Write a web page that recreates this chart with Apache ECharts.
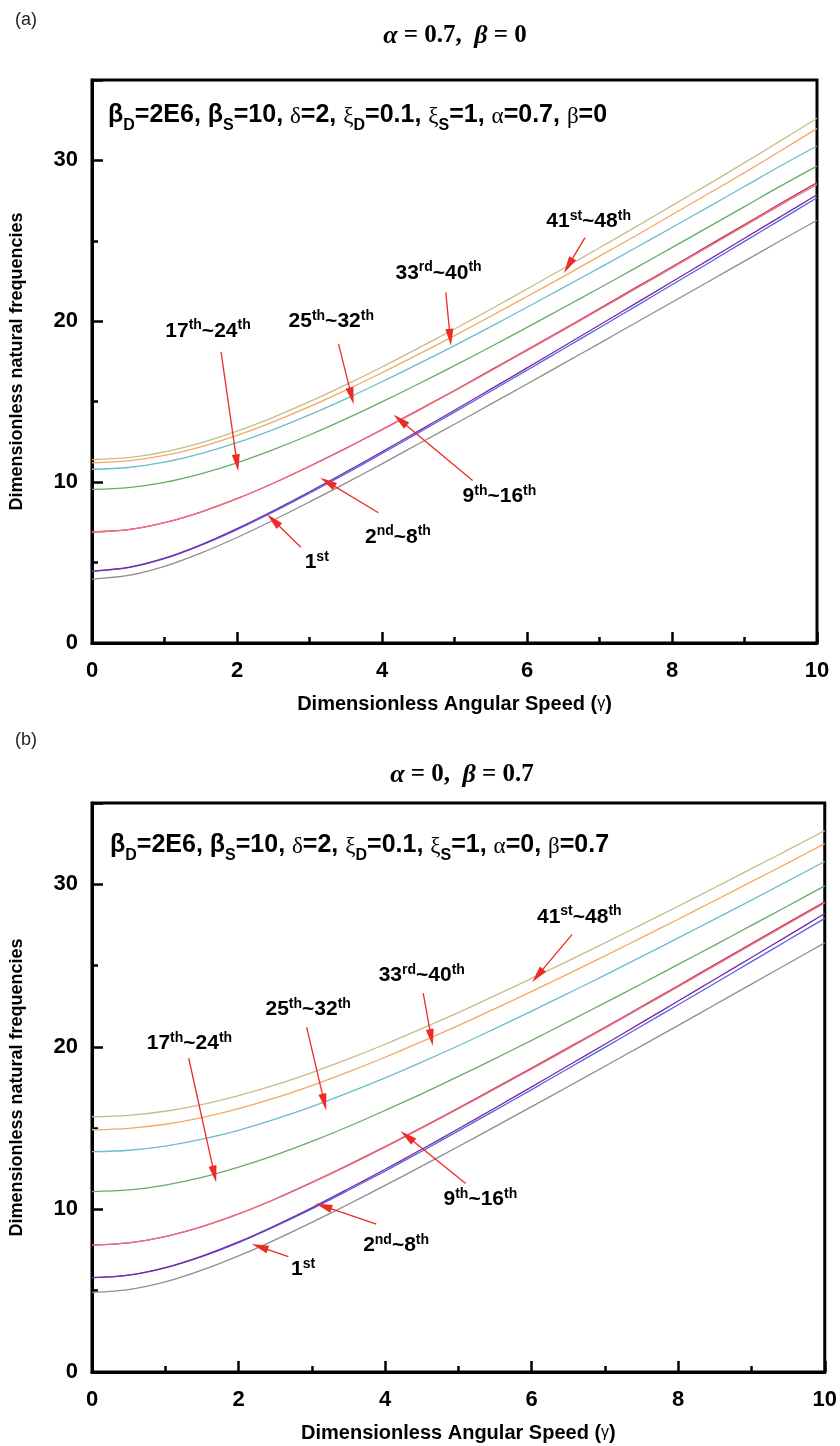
<!DOCTYPE html>
<html><head><meta charset="utf-8">
<script src="https://cdn.jsdelivr.net/npm/echarts@6/dist/echarts.min.js"></script>
<style>html,body{margin:0;padding:0;background:#fff}#c{width:840px;height:1446px}</style>
</head><body><div id="c"></div>
<script>
// ---------- data ----------
const xValues = [0, 0.5, 1, 1.5, 2, 2.5, 3, 3.5, 4, 4.5, 5, 5.5, 6, 6.5, 7, 7.5, 8, 8.5, 9, 9.5, 10];
const yTicks = [0, 10, 20, 30];

// panel (a): alpha = 0.7, beta = 0
const a_tan     = [11.4, 11.52, 11.88, 12.44, 13.17, 14.03, 15.0, 16.05, 17.16, 18.33, 19.52, 20.75, 22.01, 23.28, 24.57, 25.87, 27.19, 28.51, 29.86, 31.23, 32.62];
const a_orange  = [11.2, 11.32, 11.66, 12.2, 12.91, 13.75, 14.69, 15.72, 16.8, 17.94, 19.11, 20.31, 21.54, 22.78, 24.05, 25.32, 26.62, 27.93, 29.24, 30.6, 31.98];
const a_cyan    = [10.8, 10.91, 11.24, 11.77, 12.45, 13.27, 14.18, 15.18, 16.24, 17.35, 18.49, 19.67, 20.87, 22.09, 23.32, 24.57, 25.83, 27.1, 28.38, 29.67, 30.9];
const a_green   = [9.55, 9.66, 9.99, 10.52, 11.2, 12.02, 12.93, 13.93, 14.99, 16.1, 17.24, 18.42, 19.62, 20.84, 22.07, 23.32, 24.58, 25.85, 27.13, 28.42, 29.65];
const a_pink    = [6.9, 7.05, 7.48, 8.14, 8.97, 9.93, 10.98, 12.09, 13.25, 14.45, 15.67, 16.92, 18.18, 19.45, 20.73, 22.02, 23.32, 24.62, 25.93, 27.24, 28.5];
const a_crimson = [6.9, 7.05, 7.48, 8.14, 8.97, 9.93, 10.99, 12.1, 13.27, 14.48, 15.7, 16.96, 18.23, 19.5, 20.79, 22.09, 23.39, 24.7, 26.01, 27.33, 28.62];
const a_purple  = [4.47, 4.7, 5.27, 6.1, 7.11, 8.22, 9.4, 10.63, 11.88, 13.17, 14.47, 15.78, 17.1, 18.43, 19.77, 21.11, 22.46, 23.8, 25.16, 26.51, 27.87];
const a_blue    = [4.45, 4.68, 5.24, 6.07, 7.05, 8.15, 9.32, 10.53, 11.78, 13.06, 14.35, 15.65, 16.96, 18.28, 19.6, 20.93, 22.27, 23.61, 24.97, 26.32, 27.68];
const a_gray    = [3.97, 4.2, 4.77, 5.59, 6.56, 7.63, 8.77, 9.94, 11.14, 12.37, 13.6, 14.85, 16.1, 17.37, 18.63, 19.91, 21.18, 22.46, 23.74, 25.02, 26.28];

// panel (b): alpha = 0, beta = 0.7
const b_tan     = [15.7, 15.79, 16.04, 16.45, 17.0, 17.66, 18.42, 19.26, 20.16, 21.12, 22.11, 23.15, 24.21, 25.29, 26.4, 27.52, 28.65, 29.8, 30.96, 32.12, 33.3];
const b_orange  = [14.9, 14.99, 15.24, 15.65, 16.2, 16.86, 17.62, 18.46, 19.36, 20.32, 21.31, 22.35, 23.41, 24.49, 25.6, 26.72, 27.85, 29.0, 30.16, 31.32, 32.5];
const b_cyan    = [13.55, 13.64, 13.9, 14.32, 14.87, 15.55, 16.32, 17.18, 18.09, 19.06, 20.07, 21.12, 22.2, 23.3, 24.41, 25.55, 26.7, 27.86, 29.03, 30.21, 31.4];
const b_green   = [11.1, 11.2, 11.5, 11.97, 12.6, 13.34, 14.18, 15.1, 16.09, 17.11, 18.18, 19.28, 20.4, 21.55, 22.71, 23.88, 25.07, 26.26, 27.47, 28.68, 29.9];
const b_pink    = [7.8, 7.94, 8.33, 8.94, 9.72, 10.63, 11.64, 12.71, 13.83, 15.0, 16.19, 17.41, 18.64, 19.89, 21.15, 22.42, 23.7, 24.99, 26.28, 27.57, 28.85];
const b_crimson = [7.8, 7.94, 8.33, 8.94, 9.72, 10.64, 11.66, 12.74, 13.86, 15.04, 16.23, 17.46, 18.69, 19.95, 21.2, 22.48, 23.76, 25.06, 26.35, 27.64, 28.92];
const b_purple  = [5.8, 5.96, 6.42, 7.13, 8.0, 9.01, 10.1, 11.27, 12.47, 13.7, 14.96, 16.24, 17.54, 18.85, 20.16, 21.49, 22.82, 24.16, 25.5, 26.84, 28.2];
const b_blue    = [5.8, 5.96, 6.41, 7.1, 7.96, 8.96, 10.03, 11.18, 12.36, 13.58, 14.83, 16.09, 17.37, 18.67, 19.97, 21.28, 22.59, 23.91, 25.24, 26.57, 27.9];
const b_gray    = [4.9, 5.07, 5.54, 6.26, 7.14, 8.13, 9.2, 10.32, 11.48, 12.66, 13.87, 15.09, 16.32, 17.56, 18.81, 20.06, 21.32, 22.59, 23.86, 25.13, 26.4];

// annotations: [label, textX, textY, arrowStartX, arrowStartY, tipX, tipY]
const annA = [
  ['17{s|th}~24{s|th}', 1.6, 19.4, 1.78, 18.1, 2.0, 11.2],
  ['25{s|th}~32{s|th}', 3.3, 20.0, 3.4, 18.6, 3.58, 15.35],
  ['33{s|rd}~40{s|th}', 4.78, 23.0, 4.88, 21.8, 4.94, 19.0],
  ['41{s|st}~48{s|th}', 6.85, 26.2, 6.8, 25.2, 6.57, 23.46],
  ['9{s|th}~16{s|th}', 5.62, 9.1, 5.25, 10.1, 4.25, 13.85],
  ['2{s|nd}~8{s|th}', 4.22, 6.6, 3.95, 8.1, 3.25, 10.0],
  ['1{s|st}', 3.1, 5.0, 2.88, 5.95, 2.5, 7.63]
];
const annB = [
  ['17{s|th}~24{s|th}', 1.33, 20.2, 1.32, 19.3, 1.67, 12.17],
  ['25{s|th}~32{s|th}', 2.95, 22.3, 2.93, 21.2, 3.17, 16.6],
  ['33{s|rd}~40{s|th}', 4.5, 24.4, 4.52, 23.3, 4.63, 20.57],
  ['41{s|st}~48{s|th}', 6.65, 28.0, 6.55, 26.9, 6.08, 24.38],
  ['9{s|th}~16{s|th}', 5.3, 10.6, 5.1, 11.6, 4.3, 14.5],
  ['2{s|nd}~8{s|th}', 4.15, 7.8, 3.88, 9.1, 3.16, 10.2],
  ['1{s|st}', 2.88, 6.3, 2.68, 7.1, 2.29, 7.7]
];

// ---------- styles ----------
const colors = {
  tan: '#c8bc84', orange: '#f4a862', cyan: '#6bbccd', green: '#68ab68',
  pink: '#f27080', crimson: '#b83a5c', purple: '#7a2a9e', blue: '#5662ea', gray: '#8e8e8e'
};
const SANS = '"Liberation Sans",Arial,sans-serif';
const SERIF = '"Liberation Serif","Times New Roman",serif';

function lineSeries(name, data, gi, color, z) {
  return {
    type: 'line', name, xAxisIndex: gi, yAxisIndex: gi,
    data: xValues.map((x, i) => [x, data[i]]),
    smooth: 0.3, showSymbol: false, symbol: 'none',
    lineStyle: { color, width: 1.3 }, z: z || 2, silent: true
  };
}

function annSeries(ann, gi) {
  return [
    {
      type: 'line', xAxisIndex: gi, yAxisIndex: gi, data: [], silent: true, z: 5,
      markLine: {
        silent: true, animation: false,
        symbol: ['none', 'triangle'], symbolSize: [8, 17],
        lineStyle: { color: '#ee2a24', width: 1.3, type: 'solid', opacity: 1 },
        itemStyle: { color: '#ee2a24', opacity: 1 },
        label: { show: false },
        data: ann.map(a => [{ coord: [a[3], a[4]] }, { coord: [a[5], a[6]] }])
      }
    },
    {
      type: 'scatter', xAxisIndex: gi, yAxisIndex: gi, symbolSize: 0, silent: true, z: 6,
      itemStyle: { color: '#000', opacity: 1 },
      data: ann.map(a => ({ value: [a[1], a[2]], label: { formatter: a[0] } })),
      label: {
        show: true, position: 'inside', opacity: 1,
        color: '#000', fontSize: 21, fontWeight: 'bold', fontFamily: SANS,
        textBorderWidth: 0, textBorderColor: 'transparent',
        rich: {
          s: { fontSize: 14, fontWeight: 'bold', fontFamily: SANS, color: '#000',
               textBorderWidth: 0, verticalAlign: 'bottom', padding: [0, 0, 11, 0] }
        }
      }
    }
  ];
}

function axisPair(gi) {
  const x = {
    type: 'value', gridIndex: gi, min: 0, max: 10, interval: 2,
    axisLine: { show: true, lineStyle: { color: '#000', width: 3 } },
    axisTick: { show: true, inside: true, length: 11, lineStyle: { color: '#000', width: 2.5 } },
    minorTick: { show: true, splitNumber: 2, length: 6, lineStyle: { color: '#000', width: 2.5 } },
    splitLine: { show: false },
    axisLabel: { color: '#000', fontSize: 22, fontWeight: 'bold', fontFamily: SANS, margin: 17 },
    name: 'Dimensionless Angular Speed ({g|γ})', nameLocation: 'middle', nameGap: 51,
    nameTextStyle: { color: '#000', fontSize: 20, fontWeight: 'bold', fontFamily: SANS,
      rich: { g: { fontSize: 16, fontWeight: 'normal', fontFamily: SANS, color: '#000' } } }
  };
  const y = {
    type: 'value', gridIndex: gi, min: 0, max: 35, interval: 10,
    axisLine: { show: true, lineStyle: { color: '#000', width: 3 } },
    axisTick: { show: true, inside: true, length: 11, lineStyle: { color: '#000', width: 2.5 } },
    minorTick: { show: true, splitNumber: 2, length: 6, lineStyle: { color: '#000', width: 2.5 } },
    splitLine: { show: false },
    axisLabel: { color: '#000', fontSize: 22, fontWeight: 'bold', fontFamily: SANS, margin: 14,
      showMaxLabel: false,
      formatter: v => (yTicks.indexOf(v) >= 0 ? String(v) : '') },
    name: 'Dimensionless natural frequencies', nameLocation: 'middle', nameGap: 66,
    nameTextStyle: { color: '#000', fontSize: 18, fontWeight: 'bold', fontFamily: SANS }
  };
  return [x, y];
}

const [xa, ya] = axisPair(0);
const [xb, yb] = axisPair(1);

const paramRich = {
  d: { fontSize: 16, fontWeight: 'bold', fontFamily: SANS, color: '#000', verticalAlign: 'top', padding: [15, 0, 0, 0] },
  m: { fontSize: 25, fontWeight: 'bold', fontFamily: SANS, color: '#000', verticalAlign: 'top' },
  g: { fontSize: 23, fontWeight: 'normal', fontFamily: SERIF, color: '#000', verticalAlign: 'top', padding: [2, 0, 0, 0] }
};
const titleRich = {
  i: { fontSize: 26, fontStyle: 'italic', fontFamily: SERIF, color: '#000' },
  n: { fontSize: 25, fontFamily: SERIF, color: '#000' }
};

const option = {
  animation: false,
  backgroundColor: '#fff',
  title: [
    { text: '(a)', left: 10, top: 6, textStyle: { fontSize: 18, fontWeight: 'normal', fontFamily: SANS, color: '#222' } },
    { text: '{i|α}{n| = 0.7,  }{i|β}{n| = 0}', left: 450, top: 18, textAlign: 'center', textStyle: { rich: titleRich } },
    { text: '{m|β}{d|D}{m|=2E6, β}{d|S}{m|=10, }{g|δ}{m|=2, }{g|ξ}{d|D}{m|=0.1, }{g|ξ}{d|S}{m|=1, }{g|α}{m|=0.7, }{g|β}{m|=0}',
      left: 103, top: 98, textStyle: { rich: paramRich } },
    { text: '(b)', left: 10, top: 726, textStyle: { fontSize: 18, fontWeight: 'normal', fontFamily: SANS, color: '#222' } },
    { text: '{i|α}{n| = 0,  }{i|β}{n| = 0.7}', left: 457, top: 757, textAlign: 'center', textStyle: { rich: titleRich } },
    { text: '{m|β}{d|D}{m|=2E6, β}{d|S}{m|=10, }{g|δ}{m|=2, }{g|ξ}{d|D}{m|=0.1, }{g|ξ}{d|S}{m|=1, }{g|α}{m|=0, }{g|β}{m|=0.7}',
      left: 105, top: 828, textStyle: { rich: paramRich } }
  ],
  grid: [
    { left: 88, right: 23, top: 80, height: 563, show: true, borderColor: '#000', borderWidth: 3, backgroundColor: 'transparent' },
    { left: 90, right: 15, top: 803, height: 569, show: true, borderColor: '#000', borderWidth: 3, backgroundColor: 'transparent' }
  ],
  xAxis: [xa, xb],
  yAxis: [ya, yb],
  series: [
    lineSeries('a gray', a_gray, 0, colors.gray),
    lineSeries('a blue', a_blue, 0, colors.blue),
    lineSeries('a purple', a_purple, 0, colors.purple, 3),
    lineSeries('a pink', a_pink, 0, colors.pink),
    lineSeries('a crimson', a_crimson, 0, colors.crimson, 1),
    lineSeries('a green', a_green, 0, colors.green),
    lineSeries('a cyan', a_cyan, 0, colors.cyan),
    lineSeries('a orange', a_orange, 0, colors.orange),
    lineSeries('a tan', a_tan, 0, colors.tan),
    lineSeries('b gray', b_gray, 1, colors.gray),
    lineSeries('b blue', b_blue, 1, colors.blue),
    lineSeries('b purple', b_purple, 1, colors.purple, 3),
    lineSeries('b pink', b_pink, 1, colors.pink),
    lineSeries('b crimson', b_crimson, 1, colors.crimson, 1),
    lineSeries('b green', b_green, 1, colors.green),
    lineSeries('b cyan', b_cyan, 1, colors.cyan),
    lineSeries('b orange', b_orange, 1, colors.orange),
    lineSeries('b tan', b_tan, 1, colors.tan),
    ...annSeries(annA, 0),
    ...annSeries(annB, 1)
  ]
};

const chart = echarts.init(document.getElementById('c'), null, { renderer: 'canvas' });
chart.setOption(option);
</script>
</body></html>
